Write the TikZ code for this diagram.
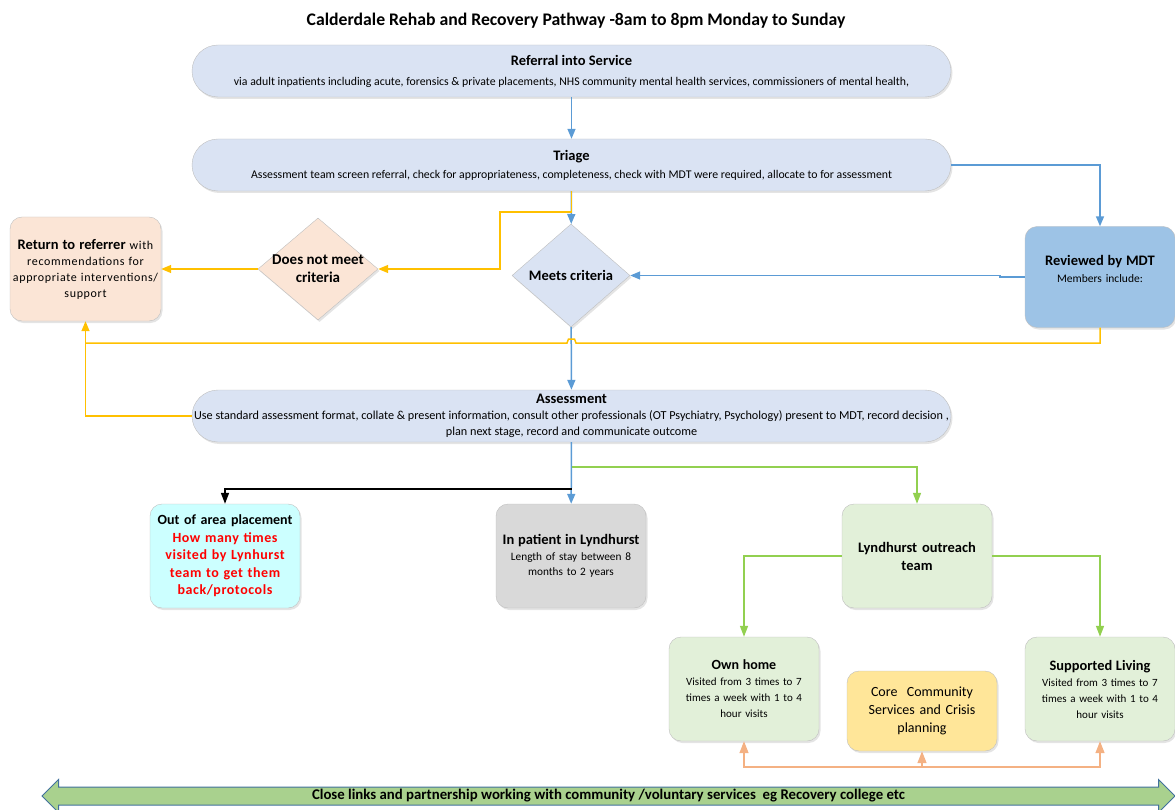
\documentclass[tikz,border=0pt]{standalone}
\usepackage{fontspec}
\setmainfont{Carlito}
\usetikzlibrary{shapes.geometric,shapes.arrows,arrows.meta,shadows}

\definecolor{lavfill}{HTML}{DAE3F3}
\definecolor{boxline}{HTML}{BFBFBF}
\definecolor{peachfill}{HTML}{FBE5D6}
\definecolor{cyanfill}{HTML}{CCFFFF}
\definecolor{grayfill}{HTML}{D9D9D9}
\definecolor{greenfill}{HTML}{E2F0D9}
\definecolor{corefill}{HTML}{FFE699}
\definecolor{mdtfill}{HTML}{9DC3E6}
\definecolor{blueline}{HTML}{5B9BD5}
\definecolor{yellowline}{HTML}{FFC000}
\definecolor{greenline}{HTML}{92D050}
\definecolor{orangeline}{HTML}{F4B183}
\definecolor{linkfill}{HTML}{A9D18E}
\definecolor{linkline}{HTML}{41719C}
\definecolor{alertred}{HTML}{FF0000}

\newcommand{\boxhead}[2]{{\fontsize{#1}{#1}\selectfont\bfseries #2}}

\begin{document}
\begin{tikzpicture}[x=1pt,y=-1pt,
    boxshadow/.style={drop shadow={shadow xshift=1.5pt,shadow yshift=-2pt,fill=black!30,opacity=.35}},
    pill/.style={draw=boxline,fill=lavfill,rounded corners=26pt,minimum width=759pt,minimum height=52pt,
      align=center,inner sep=0pt,boxshadow},
    card/.style={draw=boxline,rounded corners=12pt,minimum width=150pt,minimum height=104pt,
      text width=148pt,align=center,inner sep=1pt,boxshadow},
    choice/.style={draw=boxline,shape=diamond,minimum width=118pt,minimum height=103pt,
      inner sep=-6pt,align=center,boxshadow},
    bluearr/.style={draw=blueline,line width=1.5pt,-{Triangle[width=8pt,length=10pt]}},
    yellowarr/.style={draw=yellowline,line width=1.5pt,-{Triangle[width=8pt,length=10pt]}},
    greenarr/.style={draw=greenline,line width=1.5pt,-{Triangle[width=8pt,length=11pt]}},
    blackarr/.style={draw=black,line width=1.5pt,-{Triangle[width=8pt,length=11pt]}},
    orangearr/.style={draw=orangeline,line width=1.5pt,-{Triangle[width=9pt,length=12pt]}}
  ]
  \useasboundingbox (0,0) rectangle (1175,810);

  % Title
  \node[font=\fontsize{17.7}{20}\selectfont\bfseries] (title) at (576,21)
    {Calderdale Rehab and Recovery Pathway -8am to 8pm Monday to Sunday};

  % Referral, triage and assessment bars
  \node[pill,font=\fontsize{11.8}{20}\selectfont] (referral) at (571.5,71)
    {\boxhead{14.5}{Referral into Service}\\ via adult inpatients including acute, forensics \& private placements, NHS community mental health services, commissioners of mental health,};
  \node[pill,font=\fontsize{11.8}{18}\selectfont] (triage) at (571.5,165)
    {\boxhead{14.5}{Triage}\\ Assessment team screen referral, check for appropriateness, completeness, check with MDT were required, allocate to for assessment};
  \node[pill,font=\fontsize{12.2}{16}\selectfont] (assess) at (571.5,416)
    {\boxhead{14.5}{Assessment}\\ Use standard assessment format, collate \& present information, consult other professionals (OT Psychiatry, Psychology) present to MDT, record decision ,\\ plan next stage, record and communicate outcome};

  % Decisions
  \node[choice,fill=lavfill,font=\fontsize{14.5}{18}\selectfont\bfseries] (meets) at (571,275.5) {Meets criteria};
  \node[choice,fill=peachfill,minimum width=120pt,minimum height=102pt,
    font=\fontsize{15}{18}\selectfont\bfseries] (notmeet) at (318,269) {Does not meet\\ criteria};

  % Side boxes
  \node[card,fill=peachfill,minimum width=151pt,
    font=\fontsize{12}{16}\selectfont\addfontfeatures{LetterSpace=5.5}] (return) at (85.5,269)
    {\boxhead{14.5}{\addfontfeatures{LetterSpace=0}Return to referrer} with\\ recommendations for\\ appropriate interventions/\\ support};
  \node[card,fill=mdtfill,minimum height=101pt,font=\fontsize{11.5}{17}\selectfont] (mdt) at (1100,277)
    {\boxhead{14.5}{Reviewed by MDT}\\ Members include:\\ \mbox{}};

  % Placement boxes
  \node[card,fill=cyanfill,font=\fontsize{14}{17.5}\selectfont\bfseries] (outarea) at (225,556)
    {Out of area placement\\ \color{alertred}\addfontfeatures{LetterSpace=4}How many times\\ visited by Lynhurst\\ team to get them\\ back/protocols};
  \node[card,fill=grayfill,font=\fontsize{11.3}{15.5}\selectfont] (inpat) at (571,556)
    {\boxhead{14.5}{In patient in Lyndhurst}\\ Length of stay between 8\\ months to 2 years};
  \node[card,fill=greenfill,font=\fontsize{14.5}{18}\selectfont\bfseries] (outreach) at (917,556)
    {Lyndhurst outreach\\ team};

  % Community boxes
  \node[card,fill=greenfill,font=\fontsize{11}{16}\selectfont] (ownhome) at (744,689)
    {\boxhead{14}{Own home}\\ Visited from 3 times to 7\\ times a week with 1 to 4\\ hour visits};
  \node[card,fill=corefill,minimum height=80pt,font=\fontsize{14}{18}\selectfont] (core) at (922,711)
    {Core\ \ Community\\ Services and Crisis\\ planning};
  \node[card,fill=greenfill,font=\fontsize{11}{16}\selectfont] (supported) at (1100,689)
    {\boxhead{14.4}{Supported Living}\\ Visited from 3 times to 7\\ times a week with 1 to 4\\ hour visits};

  % Partnership arrow
  \node[shape=double arrow,draw=linkline,fill=linkfill,line width=1pt,minimum height=1133pt,
    double arrow head extend=7.5pt,inner xsep=0pt,inner ysep=2pt,text height=10pt,text depth=3pt,
    font=\fontsize{14.8}{16}\selectfont\bfseries] (links) at (608.5,796)
    {Close links and partnership working with community /voluntary services\ \ eg Recovery college etc};

  % Bend points
  \coordinate (ybend) at (500,212); % yellow bend under triage
  \coordinate (yjoin) at (85.5,343); % yellow line meets return path
  \coordinate (hopR) at (576,343); % hop over blue line
  \coordinate (bsplit) at (571.5,489); % black branch
  \coordinate (gsplit) at (571.5,467); % green branch
  \coordinate (obus) at (922,767); % orange bus

  % Blue flow
  \draw[bluearr] (referral) -- (triage);
  \draw[bluearr] (triage.east) -| (mdt.north);
  \draw[bluearr] (triage) -- (meets);
  \draw[bluearr] (mdt.west) -- ++(-25,0) |- (meets.east);
  \draw[bluearr] (meets) -- (assess);
  \draw[bluearr] (assess) -- (inpat);

  % Yellow returns
  \draw[yellowarr] (triage.south) |- (ybend) |- (notmeet.east);
  \draw[yellowarr] (notmeet) -- (return);
  \draw[yellowarr] (assess.west) -| (return.south);
  \draw[draw=yellowline,line width=1.5pt] (mdt.south) |- (hopR) -- ++(-1.5,-4) -- ++(-6,0) -- ++(-1.5,4) -- (yjoin);

  % Branches after assessment
  \draw[blackarr] (bsplit) -| (outarea.north);
  \draw[greenarr] (gsplit) -| (outreach.north);
  \draw[greenarr] (outreach.west) -| (ownhome.north);
  \draw[greenarr] (outreach.east) -| (supported.north);

  % Orange links up
  \draw[orangearr] (obus) -| (ownhome.south);
  \draw[orangearr] (obus) -| (supported.south);
  \draw[orangearr] (obus) -- (core.south);
\end{tikzpicture}
\end{document}
